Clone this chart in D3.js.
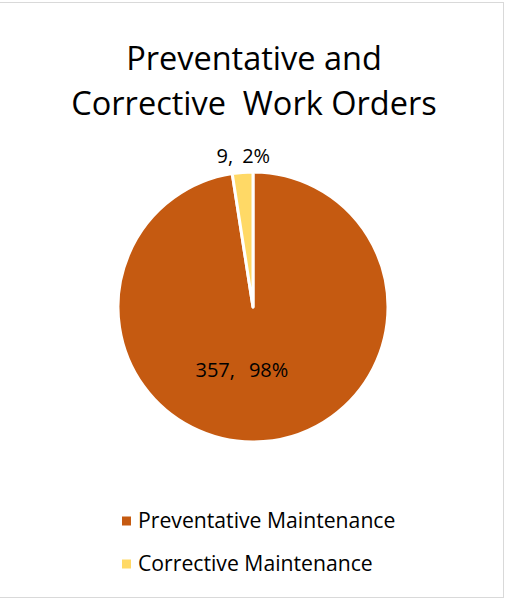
<!DOCTYPE html>
<html>
<head>
<meta charset="utf-8">
<script src="https://cdn.jsdelivr.net/npm/d3@7"></script>
<style>
  html, body { margin: 0; padding: 0; background: #fff; }
  svg { display: block; }
  text { font-family: "Open Sans", sans-serif; fill: #000; }
</style>
</head>
<body>
<svg id="chart" width="507" height="600"></svg>
<script>
const categories = ["Preventative Maintenance", "Corrective Maintenance"];
const values = [357, 9];
const percentLabels = ["98%", "2%"];
const colors = ["#C55A11", "#FFD966"];
const titleLines = ["Preventative and", "Corrective  Work Orders"];

const svg = d3.select("#chart");

// border (top, right, bottom visible)
svg.append("line").attr("x1", 0).attr("x2", 504).attr("y1", 2.5).attr("y2", 2.5).attr("stroke", "#d9d9d9");
svg.append("line").attr("x1", 0).attr("x2", 504).attr("y1", 597.5).attr("y2", 597.5).attr("stroke", "#d9d9d9");
svg.append("line").attr("x1", 503.5).attr("x2", 503.5).attr("y1", 2.5).attr("y2", 597.5).attr("stroke", "#d9d9d9");

// title
svg.append("g").selectAll("text").data(titleLines).join("text")
  .attr("x", 254).attr("y", (d, i) => 70 + i * 45)
  .attr("text-anchor", "middle").attr("font-size", 32.5)
  .attr("xml:space", "preserve")
  .text(d => d);

const cx = 253, cy = 307, r = 135;
const data = categories.map((c, i) => ({ cat: c, value: values[i], pct: percentLabels[i], color: colors[i] }));
const pie = d3.pie().sort(null).value(d => d.value);
const arcs = pie(data);
const arc = d3.arc().innerRadius(0).outerRadius(r);

const g = svg.append("g").attr("transform", `translate(${cx},${cy})`);
g.selectAll("path").data(arcs).join("path")
  .attr("d", arc)
  .attr("fill", d => d.data.color)
  .attr("stroke", "#fff").attr("stroke-width", 3).attr("stroke-linejoin", "round");

// labels
const innerLabelArc = d3.arc().innerRadius(r * 0.47).outerRadius(r * 0.47);
const outerLabelArc = d3.arc().innerRadius(r + 16).outerRadius(r + 16);
const lbl = g.selectAll("text.lbl").data(arcs).join("text")
  .attr("class", "lbl")
  .attr("font-size", 20)
  .attr("text-anchor", "middle")
  .attr("transform", d => {
    const big = (d.endAngle - d.startAngle) > 0.5;
    const [x, y] = big ? innerLabelArc.centroid(d) : outerLabelArc.centroid(d);
    return `translate(${big ? x - 16 : x + 2},${y})`;
  })
  .attr("dy", "0.35em");
lbl.append("tspan").text(d => `${d.data.value},`);
lbl.append("tspan").attr("dx", d => (d.endAngle - d.startAngle) > 0.5 ? 14 : 9).text(d => d.data.pct);

// legend
const lg = svg.append("g").selectAll("g").data(data).join("g")
  .attr("transform", (d, i) => `translate(122, ${521 + i * 43})`);
lg.append("rect").attr("x", 0).attr("y", -4.5).attr("width", 9).attr("height", 9).attr("fill", d => d.color);
lg.append("text").attr("x", 16).attr("y", 0).attr("dy", "0.35em").attr("font-size", 21.2).text(d => d.cat);
</script>
</body>
</html>
